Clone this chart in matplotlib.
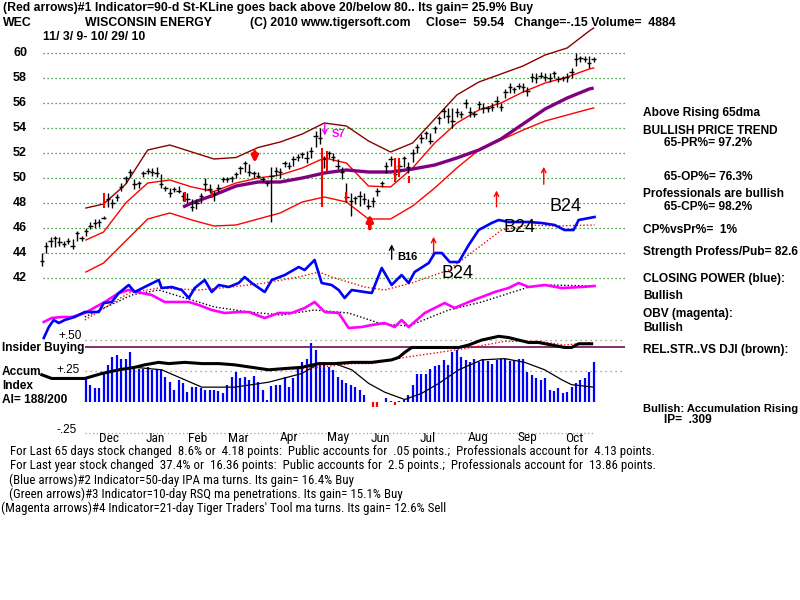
import matplotlib
matplotlib.use('Agg')
import matplotlib.pyplot as plt
import matplotlib.transforms as mtransforms
from matplotlib import font_manager as fm
import numpy as np

# ---------------- data ----------------
bar_step = 2  # trading days between drawn bars
bar_hi = [44.0, 44.9, 45.3, 45.4, 45.3, 45.0, 45.2, 45.1, 45.8, 45.4, 46.0, 46.5, 46.7, 46.7, 47.0,
          48.8, 48.3, 48.7, 49.6, 50.2, 50.7, 49.9, 49.8, 50.6, 50.8, 50.8, 50.9, 50.3, 49.4, 49.2,
          49.3, 49.4, 48.9, 48.8, 48.3, 48.3, 48.8, 50.0, 49.5, 49.0, 49.5, 50.1, 50.1, 50.2, 50.5,
          51.0, 51.4, 51.1, 50.6, 50.5, 50.1, 49.8, 50.9, 50.9, 50.8, 51.4, 51.3, 51.8, 51.9, 52.1,
          52.2, 52.5, 53.8, 54.0, 51.8, 52.2, 52.0, 51.5, 50.9, 49.6, 48.8, 48.6, 49.0, 48.8, 48.3,
          48.5, 49.2, 49.8, 51.3, 51.8, 51.0, 51.4, 51.8, 51.3, 52.3, 52.7, 53.5, 53.8, 53.6, 54.2,
          55.0, 55.6, 55.6, 55.6, 55.6, 55.4, 56.3, 55.7, 55.4, 56.2, 56.0, 55.8, 56.0, 56.6, 56.0,
          57.1, 57.6, 57.3, 57.6, 57.6, 57.3, 58.4, 58.4, 58.5, 58.4, 58.4, 58.6, 58.2, 58.2, 58.4,
          58.8, 60.0, 59.8, 59.8, 59.8, 59.7]
bar_lo = [43.0, 44.0, 44.5, 44.5, 44.6, 44.5, 44.7, 44.3, 45.0, 45.0, 45.4, 45.9, 46.0, 46.1, 46.7,
          47.7, 47.6, 48.2, 49.0, 49.6, 50.1, 49.1, 49.2, 50.1, 50.3, 50.2, 50.1, 49.2, 49.0, 48.5,
          48.9, 48.8, 48.2, 48.0, 47.4, 47.5, 48.0, 49.0, 48.8, 48.2, 48.9, 49.7, 49.7, 49.7, 50.0,
          50.3, 50.5, 50.2, 50.0, 50.0, 49.7, 49.4, 46.5, 50.2, 50.0, 50.9, 50.7, 51.0, 51.4, 51.6,
          51.2, 51.6, 52.5, 52.7, 50.8, 51.6, 51.4, 50.7, 49.9, 48.1, 47.0, 47.9, 47.8, 47.9, 47.5,
          47.7, 48.6, 49.3, 50.4, 51.0, 49.9, 50.4, 50.9, 50.4, 51.3, 52.0, 52.8, 53.1, 52.7, 53.6,
          54.3, 54.8, 54.4, 54.0, 54.9, 54.8, 55.6, 54.9, 54.9, 55.5, 55.2, 55.3, 55.4, 55.7, 55.4,
          56.4, 56.8, 56.8, 57.1, 56.9, 56.6, 57.7, 57.6, 58.0, 57.8, 57.7, 58.0, 57.7, 57.8, 57.7,
          58.0, 59.0, 59.3, 59.3, 58.8, 59.3]
bar_close = [43.4, 44.6, 45.0, 45.2, 44.9, 44.7, 45.0, 44.6, 45.6, 45.2, 45.8, 46.2, 46.4, 46.5, 46.8,
             48.3, 48.0, 48.5, 49.3, 50.0, 50.5, 49.5, 49.6, 50.4, 50.6, 50.5, 50.4, 49.5, 49.2, 48.8,
             49.1, 49.0, 48.6, 48.3, 47.7, 48.0, 48.6, 49.5, 49.1, 48.7, 49.2, 49.9, 49.9, 50.0, 50.3,
             50.8, 51.2, 50.5, 50.4, 50.2, 49.9, 49.6, 50.2, 50.6, 50.5, 51.2, 51.0, 51.5, 51.7, 51.9,
             51.6, 52.2, 53.4, 53.2, 51.5, 52.0, 51.7, 51.0, 50.5, 48.5, 48.2, 48.4, 48.6, 48.3, 47.8,
             48.2, 49.0, 49.6, 51.0, 51.5, 50.3, 51.0, 51.6, 50.9, 52.0, 52.5, 53.2, 53.6, 53.0, 54.0,
             54.8, 55.4, 55.0, 54.6, 55.3, 55.1, 56.0, 55.3, 55.1, 55.9, 55.6, 55.6, 55.7, 56.2, 55.7,
             56.9, 57.3, 57.1, 57.4, 57.3, 57.0, 58.1, 58.0, 58.2, 58.1, 58.0, 58.4, 57.9, 58.0, 58.1,
             58.5, 59.5, 59.6, 59.5, 59.2, 59.54]

band_days = [20, 28, 38, 48, 58, 68, 78, 88, 98, 108, 118, 128, 138, 148, 158, 168, 178, 188, 198,
             208, 218, 228, 238, 248, 250]
band_upper = [47.6, 47.92, 49.5, 52.24, 52.64, 52.08, 51.52, 51.64, 52.44, 52.88, 53.52, 54.4, 54.16,
              52.96, 52.08, 52.8, 54.72, 56.64, 57.68, 58.32, 58.96, 59.84, 60.4, 61.76, 62.0]
ma21 = [45.04, 45.68, 48.0, 49.6, 49.84, 49.28, 48.92, 49.6, 50.0, 50.24, 50.8, 51.6, 51.2,
        49.36, 49.28, 50.8, 52.8, 54.4, 55.44, 56.0, 56.88, 57.6, 58.08, 58.72, 58.8]
band_lower = [42.48, 43.2, 44.96, 46.72, 47.2, 46.64, 46.16, 46.24, 46.72, 47.2, 48.08, 48.48, 48.08,
              46.72, 46.72, 47.76, 49.2, 50.8, 52.24, 53.04, 53.84, 54.56, 55.04, 55.52, 55.6]

ma65_days = [64, 68, 78, 88, 98, 108, 118, 128, 138, 148, 158, 168, 178, 188, 198, 208, 218, 228,
             238, 248, 250]
ma65 = [47.68, 48.0, 48.64, 49.36, 49.68, 49.68, 50.0, 50.4, 50.64, 50.48, 50.48, 50.72, 51.04,
        51.6, 52.24, 53.12, 54.32, 55.52, 56.4, 57.12, 57.2]

cp_days = [0.9, 3.2, 5.4, 7.7, 10.4, 14.9, 19.5, 25.8, 28.1, 31.7, 34.9, 39.4, 42.1, 46.6, 53.0, 54.3,
           58.9, 63.4, 66.6, 69.3, 73.8, 77.0, 80.2, 84.7, 89.2, 91.9, 95.1, 101.0, 104.2, 110.1,
           116.4, 119.1, 123.6, 126.8, 131.3, 134.5, 137.2, 140.4, 146.3, 149.5, 154.0, 158.5,
           163.0, 166.2, 168.9, 175.3, 178.0, 181.2, 184.8, 188.9, 193.4, 197.9, 203.8, 207.0,
           211.5, 220.6, 226.4, 232.3, 236.8, 240.9, 243.2, 250.4]
cp_vals = [37.2, 38.08, 38.64, 38.4, 38.64, 38.88, 39.28, 39.28, 40.0, 40.08, 40.8, 41.44, 40.88,
           41.28, 41.84, 41.2, 41.28, 41.04, 40.4, 41.2, 41.84, 40.88, 41.44, 41.28, 41.6, 42.08,
           41.6, 40.88, 41.84, 42.24, 42.88, 42.64, 43.44, 41.6, 41.44, 41.04, 40.4, 41.04, 40.88,
           40.8, 42.8, 41.44, 42.24, 41.6, 42.48, 43.2, 44.0, 44.0, 43.28, 43.28, 44.64, 45.84,
           46.4, 46.64, 46.48, 46.48, 46.4, 46.24, 45.84, 45.84, 46.64, 46.88]
cp_ma_days = [19.5, 39.4, 53.0, 71.1, 86.1, 101.0, 116.4, 125.5, 131.3, 146.3, 155.3, 167.6, 184.3,
              208.3, 220.6, 232.3, 250.4]
cp_ma_vals = [38.64, 40.8, 41.2, 41.04, 41.28, 41.6, 42.08, 42.48, 42.08, 41.28, 41.04, 41.6, 42.64,
              45.84, 46.24, 46.16, 46.24]

obv_days = [0.9, 4.5, 9.1, 13.6, 19.5, 28.5, 34.9, 39.4, 45.3, 49.8, 55.7, 62.0, 66.6, 71.1, 77.0,
            82.9, 89.2, 93.8, 101.0, 107.3, 113.2, 119.1, 123.6, 128.2, 134.5, 139.0, 144.9, 149.5,
            155.3, 159.9, 163.0, 166.2, 173.5, 182.5, 187.0, 193.4, 199.3, 205.2, 211.5, 216.0,
            220.6, 227.8, 235.5, 244.6, 250.4]
obv_vals = [38.48, 38.8, 38.88, 38.88, 39.2, 40.08, 40.8, 41.04, 40.8, 40.64, 40.08, 40.08, 40.08,
            39.84, 39.44, 39.2, 39.28, 39.28, 38.8, 39.2, 39.2, 39.6, 40.08, 39.28, 39.2, 38.0,
            38.08, 38.24, 38.4, 38.08, 38.64, 38.08, 39.2, 40.0, 39.6, 40.08, 40.48, 40.88, 41.2,
            41.6, 41.28, 41.44, 41.2, 41.28, 41.36]
obv_ma_days = [19.5, 40.8, 53.0, 63.4, 78.4, 93.8, 108.7, 123.6, 139.0, 154.0, 166.2, 184.3, 199.3,
               220.6, 229.6, 250.4]
obv_ma_vals = [38.88, 40.64, 41.04, 40.48, 39.68, 39.28, 39.04, 39.44, 39.2, 38.32, 38.16, 39.44,
               40.08, 41.28, 41.44, 41.36]

price_levels = [42, 44, 46, 48, 50, 52, 54, 56, 58, 60]

accum_first_bar = 10
accum_vals = [0.20, 0.14, 0.11, 0.11, 0.23, 0.30, 0.36, 0.38, 0.35, 0.35, 0.40, 0.27, 0.27, 0.27,
              0.28, 0.26, 0.27, 0.26, 0.20, 0.16, 0.10, 0.18, 0.15, 0.08, 0.12, 0.12, 0.11, 0.10,
              0.10, 0.10, 0.09, 0.07, 0.14, 0.20, 0.24, 0.19, 0.20, 0.18, 0.21, 0.16, 0.10, 0.02,
              0.13, 0.14, 0.14, 0.20, 0.12, 0.19, 0.28, 0.32, 0.35, 0.48, 0.42, 0.32, 0.31, 0.28,
              0.26, 0.20, 0.18, 0.15, 0.14, 0.12, 0.10, 0.06, 0.0, -0.04, -0.04, 0.0, 0.03, 0.01,
              -0.02, 0.01, 0.02, 0.06, 0.14, 0.23, 0.23, 0.23, 0.27, 0.29, 0.30, 0.34, 0.30, 0.40,
              0.42, 0.36, 0.34, 0.32, 0.35, 0.32, 0.35, 0.33, 0.31, 0.34, 0.35, 0.35, 0.33, 0.34,
              0.35, 0.35, 0.24, 0.22, 0.19, 0.18, 0.19, 0.10, 0.09, 0.11, 0.07, 0.08, 0.12, 0.15,
              0.18, 0.19, 0.24, 0.32]
ai_ma_days = [42.1, 54.3, 72.5, 87.4, 102.8, 117.8, 125.5, 132.7, 140.4, 148.1, 155.3, 164.4, 172.1,
              179.8, 188.9, 199.3, 209.7, 218.8, 227.8, 235.5, 240.0, 250.0]
ai_ma_vals = [0.28, 0.26, 0.12, 0.12, 0.16, 0.23, 0.31, 0.31, 0.26, 0.15, 0.08, 0.02, 0.07, 0.15,
              0.26, 0.34, 0.35, 0.32, 0.26, 0.18, 0.14, 0.12]
rs_days = [0, 4.5, 12.2, 19.5, 27.2, 34.9, 42.1, 46.6, 53.0, 57.5, 64.8, 72.5, 80.2, 87.4, 95.1,
           102.8, 110.1, 117.8, 125.5, 132.7, 140.4, 149.5, 158.5, 161.7, 164.4, 167.6, 172.1, 176.6,
           182.5, 188.9, 193.4, 199.3, 207.0, 211.5, 216.0, 220.6, 225.1, 231.0, 236.9, 240.0,
           243.2, 249.1]
rs_vals = [0.22, 0.19, 0.19, 0.19, 0.23, 0.26, 0.28, 0.30, 0.32, 0.31, 0.32, 0.31, 0.31, 0.30, 0.28,
           0.26, 0.27, 0.28, 0.31, 0.31, 0.32, 0.32, 0.34, 0.36, 0.40, 0.44, 0.44, 0.44, 0.44, 0.44,
           0.46, 0.50, 0.53, 0.52, 0.50, 0.48, 0.48, 0.46, 0.44, 0.44, 0.47, 0.47]
rs_ma_days = [108.7, 125.5, 140.4, 149.5, 164.4, 179.8, 194.7, 209.7, 225.1, 236.9, 249.1]
rs_ma_vals = [0.26, 0.28, 0.31, 0.31, 0.36, 0.40, 0.44, 0.49, 0.49, 0.46, 0.48]
insider_level = 0.444
accum_levels = [0.50, 0.25]
accum_low_level = -0.25

red_mark_days = [28.1, 64.8, 77.0, 126.8, 129.0, 138.0, 160.0, 161.7, 166.2]
red_mark_lo = [47.6, 48.1, 48.4, 47.7, 50.6, 48.2, 49.7, 50.1, 49.6]
red_mark_hi = [48.8, 48.9, 49.0, 52.4, 52.2, 48.9, 51.6, 51.6, 50.2]

month_labels = ['Dec', 'Jan', 'Feb', 'Mar', 'Apr', 'May', 'Jun', 'Jul', 'Aug', 'Sep', 'Oct']
month_pos = [30.4, 51.2, 70.7, 89.2, 111.9, 134.1, 153.5, 174.8, 197.9, 220.1, 241.4]

# ---------------- fonts ----------------
avail = {f.name for f in fm.fontManager.ttflist}
def first(*names):
    for n in names:
        if n in avail:
            return n
    return 'DejaVu Sans'
NARROW = first('Liberation Sans Narrow', 'Roboto Condensed', 'Open Sans Condensed', 'DejaVu Sans')
BOLD = first('Liberation Sans', 'DejaVu Sans')

# ---------------- figure ----------------
W, H = 800, 600
fig = plt.figure(figsize=(8, 6), dpi=100)
fig.patch.set_facecolor('white')
def fx(px): return px / W
def fy(py): return 1 - py / H

ax = fig.add_axes([fx(40), fy(345), 585 / W, 330 / H])
ax.set_xlim(-0.8, 264.2)
ax.set_ylim(36.64, 63.04)
ax.axis('off')

ax2 = fig.add_axes([fx(40), fy(435), 585 / W, 105 / H])
ax2.set_xlim(-0.8, 264.2)
ax2.set_ylim(-0.266, 0.581)
ax2.axis('off')

# grid
ax.hlines(price_levels, 0.5, 264.2, colors='#138a13', linestyles=(0, (1, 2.2)), linewidth=0.9, zorder=1)

# bands
ax.plot(band_days, band_upper, color='#8b0000', lw=1.0, zorder=2)
ax.plot(band_days, ma21, color='#ff0000', lw=1.0, zorder=2)
ax.plot(band_days, band_lower, color='#ff0000', lw=1.0, zorder=2)
ax.plot(ma65_days, ma65, color='#800080', lw=2.4, zorder=2.5, solid_capstyle='butt')

# indicator lines in price panel
ax.plot(cp_ma_days, cp_ma_vals, color='#ff0000', lw=1.0, ls=(0, (1, 1.5)), zorder=2)
ax.plot(obv_ma_days, obv_ma_vals, color='black', lw=1.0, ls=(0, (1, 1.5)), zorder=2)
ax.plot(obv_days, obv_vals, color='#ff00ff', lw=1.9, zorder=3)
ax.plot(cp_days, cp_vals, color='#0000ff', lw=1.9, zorder=3)

# price bars
days = np.arange(len(bar_close)) * bar_step
ax.vlines(days, bar_lo, bar_hi, color='black', lw=1.0, zorder=4)
ax.hlines(bar_close, days - 1.0, days + 1.0, color='black', lw=1.0, zorder=4)
ax.vlines(red_mark_days, red_mark_lo, red_mark_hi, color='#ff0000', lw=1.5, zorder=5)

# arrows
def arrow(x, y0, y1, color, lw, ms, style='-|>'):
    ax.annotate('', xy=(x, y1), xytext=(x, y0),
                arrowprops=dict(arrowstyle=style, color=color, lw=lw, mutation_scale=ms,
                                shrinkA=0, shrinkB=0), zorder=6)
arrow(96.5, 52.1, 51.2, '#ff0000', 2.6, 9)
arrow(148.6, 45.95, 47.1, '#ff0000', 2.6, 9)
arrow(177.5, 44.0, 45.3, '#ff0000', 1.0, 8, '->')
arrow(206.0, 47.7, 49.0, '#ff0000', 1.0, 8, '->')
arrow(227.4, 49.5, 50.9, '#ff0000', 1.0, 8, '->')
arrow(158.5, 43.5, 44.7, 'black', 1.0, 8, '->')
arrow(128.2, 54.3, 53.4, '#ff00ff', 1.0, 8, '->')

ax.text(131.5, 53.55, 'S7', color='#ff00ff', fontsize=8, fontweight='bold', family=BOLD,
        va='center', ha='left', zorder=6)
ax.text(161.2, 43.65, 'B16', color='black', fontsize=8, fontweight='bold', family=BOLD,
        va='center', ha='left', zorder=6)
for bx, by in [(181.2, 42.4), (209.2, 46.0), (230.0, 47.7)]:
    ax.text(bx, by, 'B24', color='black', fontsize=13, family=BOLD, va='center', ha='left', zorder=6)

# accumulation panel
acc_days = (np.arange(len(accum_vals)) + accum_first_bar) * bar_step
acc = np.array(accum_vals)
ax2.vlines(acc_days[acc >= 0], 0, acc[acc >= 0], color='#0000ff', lw=1.6, zorder=2)
ax2.vlines(acc_days[acc < 0], 0, acc[acc < 0], color='#ff0000', lw=1.6, zorder=2)
ax2.hlines(accum_levels, 19.5, 264.2, colors='#888888', linestyles=(0, (1, 3)), lw=0.9, zorder=1)
ax2.hlines([accum_low_level], 19.5, 250.5, colors='#c08a9a', linestyles=(0, (1, 2)), lw=0.9, zorder=1)
ax2.hlines([insider_level], 19.5, 264.2, colors='#7a1d5e', lw=1.3, zorder=1.5)
ax2.plot(ai_ma_days, ai_ma_vals, color='black', lw=0.9, zorder=3)
ax2.plot(rs_ma_days, rs_ma_vals, color='#ff0000', lw=1.0, ls=(0, (1, 1.5)), zorder=3)
ax2.plot(rs_days, rs_vals, color='black', lw=2.2, zorder=4)

# ---------------- texts ----------------
renderer = fig.canvas.get_renderer()
def fit_size(s, w, family, weight, size=10):
    t = fig.text(0, 0, s, fontsize=size, family=family, fontweight=weight)
    wd = t.get_window_extent(renderer).width
    t.remove()
    return size * w / wd

def put(s, x, y, size, weight='bold', family=None, color='black', ha='left'):
    return fig.text(fx(x), fy(y), s, ha=ha, va='center', fontsize=size, fontweight=weight,
                    family=family or BOLD, color=color)

hdr = '(Red arrows)#1 Indicator=90-d St-KLine goes back above 20/below 80.. Its gain= 25.9% Buy'
hs = min(9.5, fit_size(hdr, 529, BOLD, 'bold'))
put(hdr, 3, 8, hs)
put('WEC', 3, 23, hs)
put('WISCONSIN ENERGY', 85, 23, hs)
put('(C) 2010 www.tigersoft.com', 250, 23, hs)
put('Close=  59.54   Change=-.15 Volume=  4884', 426, 23, hs)
put('11/ 3/ 9- 10/ 29/ 10', 43, 37, hs)

# price labels
ytr = mtransforms.blended_transform_factory(fig.transFigure, ax.transData)
for lv in price_levels:
    fig.text(fx(20), lv, str(lv), transform=ytr, ha='center', va='center', fontsize=9,
             fontweight='bold', family=BOLD)

# right column
rs_size = min(9.5, fit_size('Strength Profess/Pub= 82.6', 156, BOLD, 'bold'))
right = [('Above Rising 65dma', 643, 113), ('BULLISH PRICE TREND', 643, 131),
         ('65-PR%= 97.2%', 664, 143), ('65-OP%= 76.3%', 664, 177),
         ('Professionals are bullish', 643, 194), ('65-CP%= 98.2%', 664, 207),
         ('CP%vsPr%=  1%', 643, 230), ('Strength Profess/Pub= 82.6', 643, 252),
         ('CLOSING POWER (blue):', 643, 279), ('Bullish', 643, 296),
         ('OBV (magenta):', 643, 314), ('Bullish', 643, 328),
         ('REL.STR..VS DJI (brown):', 643, 350), ('IP=  .309', 664, 420)]
for s, x, y in right:
    put(s, x, y, rs_size)
acc_txt = 'Bullish: Accumulation Rising'
put(acc_txt, 643, 409, min(rs_size, fit_size(acc_txt, 154, BOLD, 'bold')))

# accum panel labels
put('Insider Buying', 2, 348, rs_size)
put('Accum', 2, 372, rs_size)
put('Index', 2, 386, rs_size)
put('AI= 188/200', 2, 400, rs_size)
put('+.50', 82, 336, 8.5, weight='normal', ha='right')
put('+.25', 80, 370, 8.5, weight='normal', ha='right')
put('-.25', 77, 430, 8.5, weight='normal', ha='right')

# months
mtr = mtransforms.blended_transform_factory(ax2.transData, fig.transFigure)
msize = fit_size('Dec', 20, NARROW, 'normal')
for lab, pos in zip(month_labels, month_pos):
    fig.text(pos, fy(438), lab, transform=mtr, ha='center', va='center', fontsize=msize,
             family=NARROW)

bottom = [(' For Last 65 days stock changed  8.6% or  4.18 points:  Public accounts for  .05 points.;  '
           'Professionals account for  4.13 points.', 7, 452),
          (' For Last year stock changed  37.4% or  16.36 points:  Public accounts for  2.5 points.;  '
           'Professionals account for  13.86 points.', 7, 466),
          (' (Blue arrows)#2 Indicator=50-day IPA ma turns. Its gain= 16.4% Buy', 6, 480),
          (' (Green arrows)#3 Indicator=10-day RSQ ma penetrations. Its gain= 15.1% Buy', 6, 494),
          ('(Magenta arrows)#4 Indicator=21-day Tiger Traders\' Tool ma turns. Its gain= 12.6% Sell',
           1, 508)]
bs = min(9.3, fit_size(bottom[0][0], 726, NARROW, 'normal'))
for s, x, y in bottom:
    put(s, x, y, bs, weight='normal', family=NARROW)

fig.savefig('out.png', dpi=100, facecolor='white')
